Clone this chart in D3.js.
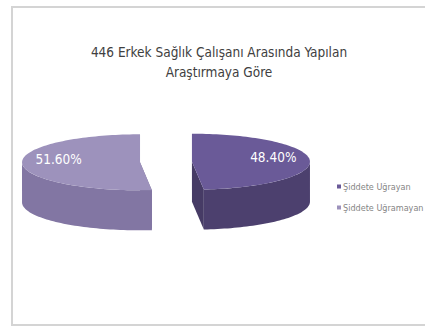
<!DOCTYPE html>
<html>
<head>
<meta charset="utf-8">
<script src="https://cdn.jsdelivr.net/npm/d3@7"></script>
<style>
body{margin:0;background:#fff;}
svg{display:block;}
</style>
</head>
<body>
<div id="chart"></div>
<script>
// chart data
var categories=['Şiddete Uğrayan','Şiddete Uğramayan'];
var values=[48.4,51.6];
var labels=['48.40%','51.60%'];
var titleLines=['446 Erkek Sağlık Çalışanı Arasında Yapılan','Araştırmaya Göre'];

var W=425,H=327;
var topColors=['#6a5a98','#9d92bc'];
var sideColors=['#4c406e','#8276a3'];
var font='"DejaVu Sans Condensed","Liberation Sans",sans-serif';

var svg=d3.select('#chart').append('svg')
    .attr('width',W).attr('height',H);

// chart area frame
svg.append('path')
    .attr('d',d3.line()([[W+5,7],[12,7],[12,325],[W+5,325]]))
    .style('fill','none')
    .style('stroke','#d4d4d4')
    .style('stroke-width',2);

svg.selectAll('.title')
    .data(titleLines).enter()
    .append('text')
    .attr('class','title')
    .attr('x',219)
    .attr('y',function(d,i){return 57+i*20;})
    .attr('text-anchor','middle')
    .attr('font-family',font)
    .attr('font-size','13.5px')
    .style('fill','#404040')
    .text(function(d){return d;});

// 3d pie geometry
var cx0=166,cy=162,rx=118,ry=28,depth=40,explode=26;
var pie=d3.pie().sort(null).value(function(d){return d;});
var arcs=pie(values);
var line=d3.line();

function pt(c,a,r,dy){
    return [c[0]+r*rx*Math.sin(a), c[1]-r*ry*Math.cos(a)+(dy||0)];
}
function sample(a0,a1){
    var n=Math.max(2,Math.ceil(Math.abs(a1-a0)/0.03));
    return d3.range(n+1).map(function(i){return a0+(a1-a0)*i/n;});
}

var slices=arcs.map(function(a,i){
    var mid=(a.startAngle+a.endAngle)/2;
    var c=[cx0+explode*Math.sin(mid), cy-explode*(ry/rx)*Math.cos(mid)];
    return {i:i,a:a,mid:mid,c:c};
});

var g=svg.append('g');
slices.forEach(function(s){
    var gs=g.append('g');
    var a0=s.a.startAngle,a1=s.a.endAngle;
    // cut walls
    [a0,a1].forEach(function(a){
        var e=pt(s.c,a,1);
        gs.append('path')
            .attr('d',line([s.c,e,[e[0],e[1]+depth],[s.c[0],s.c[1]+depth]])+'Z')
            .style('fill',d3.color(sideColors[s.i]).darker(0.25));
    });
    // outer wall, front half only
    var lo=Math.max(a0,Math.PI/2),hi=Math.min(a1,Math.PI*1.5);
    if(hi>lo){
        var angs=sample(lo,hi);
        var topPts=angs.map(function(a){return pt(s.c,a,1);});
        var botPts=angs.slice().reverse().map(function(a){return pt(s.c,a,1,depth);});
        gs.append('path')
            .attr('d',line(topPts.concat(botPts))+'Z')
            .style('fill',sideColors[s.i]);
    }
    // top face
    var face=[s.c].concat(sample(a0,a1).map(function(a){return pt(s.c,a,1);}));
    gs.append('path')
        .attr('d',line(face)+'Z')
        .style('fill',topColors[s.i]);
    // label
    var lp=pt(s.c,s.mid,0.69);
    gs.append('text')
        .attr('x',lp[0]).attr('y',lp[1]+1)
        .attr('text-anchor','middle')
        .attr('font-family',font)
        .attr('font-size','13.5px')
        .style('fill','#fff')
        .text(labels[s.i]);
});

// legend
var leg=svg.selectAll('.leg')
    .data(categories).enter()
    .append('g')
    .attr('class','leg')
    .attr('transform',function(d,i){return 'translate(337,'+(187+i*21)+')';});
leg.append('rect')
    .attr('x',0).attr('y',-2.5).attr('width',4).attr('height',4)
    .style('fill',function(d,i){return topColors[i];});
leg.append('text')
    .attr('x',6).attr('y',3)
    .attr('font-family',font)
    .attr('font-size','9px')
    .style('fill','#858585')
    .text(function(d){return d;});
</script>
</body>
</html>
